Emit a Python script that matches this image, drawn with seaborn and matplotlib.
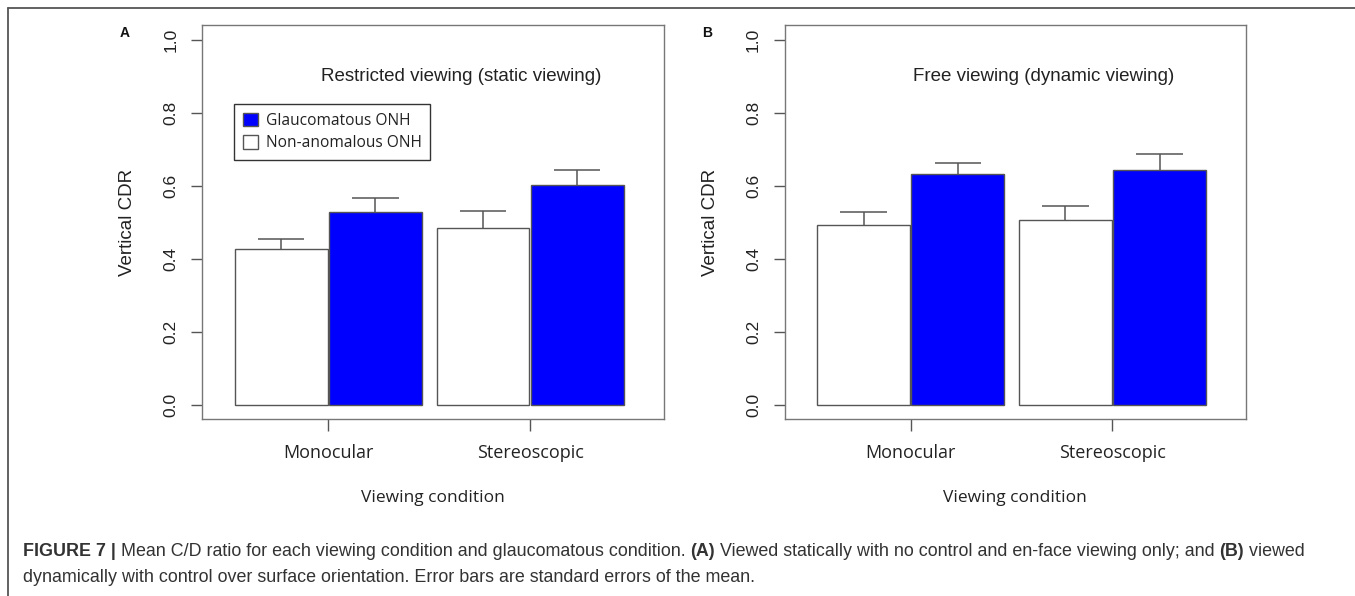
import numpy as np
import pandas as pd
import matplotlib
matplotlib.use("Agg")
import matplotlib.pyplot as plt
import seaborn as sns
from matplotlib.patches import Patch
from matplotlib.lines import Line2D

# ---------------- data ----------------
conditions = ["Monocular", "Stereoscopic"]
groups = ["Non-anomalous ONH", "Glaucomatous ONH"]

a_nonanom = [0.427, 0.484]
a_glauc = [0.529, 0.602]
a_nonanom_se = [0.028, 0.047]
a_glauc_se = [0.036, 0.041]

b_nonanom = [0.491, 0.506]
b_glauc = [0.631, 0.644]
b_nonanom_se = [0.038, 0.038]
b_glauc_se = [0.031, 0.043]

titles = ["Restricted viewing (static viewing)", "Free viewing (dynamic viewing)"]
panel_letters = ["A", "B"]
yticks = [0.0, 0.2, 0.4, 0.6, 0.8, 1.0]
ytick_labels = ["0.0", "0.2", "0.4", "0.6", "0.8", "1.0"]
ylabel = "Vertical CDR"
xlabel = "Viewing condition"
caption_line1 = [("FIGURE 7 | ", True),
                 ("Mean C/D ratio for each viewing condition and glaucomatous condition. ", False),
                 ("(A)", True),
                 (" Viewed statically with no control and en-face viewing only; and ", False),
                 ("(B)", True),
                 (" viewed", False)]
caption_line2 = "dynamically with control over surface orientation. Error bars are standard errors of the mean."

# ---------------- style ----------------
sns.set_theme(style="white")
plt.rcParams["font.family"] = ["Liberation Sans", "DejaVu Sans"]

W, H = 1355, 596
fig = plt.figure(figsize=(W / 100, H / 100), dpi=100)
fig.patch.set_facecolor("white")

def fx(px):
    return px / W

def fy(py):
    return 1 - py / H

EDGE = "#555555"
palette = {"Non-anomalous ONH": "#FFFFFF", "Glaucomatous ONH": "#0000FF"}

panels = [
    dict(left=202.1, nonanom=a_nonanom, glauc=a_glauc, nse=a_nonanom_se, gse=a_glauc_se, legend=True),
    dict(left=784.5, nonanom=b_nonanom, glauc=b_glauc, nse=b_nonanom_se, gse=b_glauc_se, legend=False),
]
ax_w, ax_top, ax_bot = 461.5, 25.0, 419.3

for i, p in enumerate(panels):
    ax = fig.add_axes([fx(p["left"]), fy(ax_bot), ax_w / W, (ax_bot - ax_top) / H])
    df = pd.DataFrame({
        "condition": conditions * 2,
        "group": [groups[0]] * 2 + [groups[1]] * 2,
        "cdr": list(p["nonanom"]) + list(p["glauc"]),
        "se": list(p["nse"]) + list(p["gse"]),
    })
    sns.barplot(data=df, x="condition", y="cdr", hue="group", order=conditions,
                hue_order=groups, palette=palette, saturation=1, width=0.934, gap=0.014,
                edgecolor=EDGE, linewidth=1.0, errorbar=None, legend=False, ax=ax)

    # error bars (upper only, R style) from the drawn bars
    bars = [b for b in ax.patches if b.get_height() > 0]
    for bar in bars:
        cx = bar.get_x() + bar.get_width() / 2
        top = bar.get_height()
        ci = int(round(cx))
        gi = 0 if np.allclose(bar.get_facecolor()[:3], (1, 1, 1)) else 1
        se = df[(df.condition == conditions[ci]) & (df.group == groups[gi])]["se"].iloc[0]
        hw = bar.get_width() / 4
        ax.vlines(cx, top, top + se, color=EDGE, lw=1.1, zorder=3)
        ax.hlines(top + se, cx - hw, cx + hw, color=EDGE, lw=1.1, zorder=3)

    ax.set_xlim(-0.626, 1.662)
    ax.set_ylim(-0.04, 1.04)
    ax.set_xlabel("")
    ax.set_ylabel("")
    ax.set_yticks(yticks)
    ax.set_yticklabels(ytick_labels, rotation=90, va="center",
                       fontfamily="Liberation Sans", fontsize=12.5, color="#222222")
    ax.set_xticks([0, 1])
    ax.set_xticklabels(conditions, fontfamily="Open Sans", fontsize=13, color="#222222")
    ax.tick_params(axis="y", direction="out", length=8, width=1, color=EDGE, pad=9, left=True)
    ax.tick_params(axis="x", direction="out", length=8.5, width=1, color=EDGE, pad=9.5, bottom=True)
    for s in ax.spines.values():
        s.set_visible(True)
        s.set_color("#777777")
        s.set_linewidth(1.0)
    ax.set_facecolor("white")
    ax.grid(False)

    ax.text(0.66, 0.9, titles[i], ha="center", va="center", fontsize=13.5,
            fontfamily="Liberation Sans", color="#222222")

    if p["legend"]:
        handles = [Patch(facecolor=palette[groups[1]], edgecolor=EDGE, linewidth=1),
                   Patch(facecolor=palette[groups[0]], edgecolor=EDGE, linewidth=1)]
        leg = ax.legend(handles=handles, labels=[groups[1], groups[0]], loc="upper left",
                        bbox_to_anchor=((234 - p["left"]) / ax_w, (ax_bot - 104) / (ax_bot - ax_top)),
                        borderaxespad=0, frameon=True, fancybox=False, framealpha=1,
                        edgecolor="#333333", handlelength=1.0, handleheight=1.0,
                        handletextpad=0.5, borderpad=0.55, labelspacing=0.4,
                        prop={"family": "Open Sans", "size": 11.2})
        leg.get_frame().set_linewidth(1.0)
        for t in leg.get_texts():
            t.set_color("#222222")

    # labels in figure coordinates
    cx_px = p["left"] + ax_w / 2
    fig.text(fx(cx_px), fy(498), xlabel, ha="center", va="center",
             fontfamily="Open Sans", fontsize=12.5, color="#222222")
    fig.text(fx(p["left"] - 74.4), fy(222), ylabel, ha="center", va="center", rotation=90,
             fontfamily="Liberation Sans", fontsize=13.5, color="#222222")
    fig.text(fx(p["left"] - 77), fy(33), panel_letters[i], ha="center", va="center",
             fontweight="bold", fontfamily="Liberation Sans", fontsize=10, color="#111111")

# frame lines
fig.add_artist(Line2D([fx(8), 1], [fy(8), fy(8)], transform=fig.transFigure,
                      color="#555555", lw=1.3))
fig.add_artist(Line2D([fx(8), fx(8)], [0, fy(8)], transform=fig.transFigure,
                      color="#555555", lw=1.3))

# caption
renderer = fig.canvas.get_renderer()
probe = fig.text(0, 0, caption_line2, fontsize=10, fontfamily="Liberation Sans")
wprobe = probe.get_window_extent(renderer).width
probe.remove()
cap_size = 10 * (756.7 - 22.7) / wprobe

x = 22.7
for txt, bold in caption_line1:
    t = fig.text(fx(x), fy(551), txt, ha="left", va="center", fontsize=cap_size,
                 fontweight="bold" if bold else "normal", fontfamily="Liberation Sans",
                 color="#333333")
    x += t.get_window_extent(renderer).width
fig.text(fx(22.7), fy(577.5), caption_line2, ha="left", va="center", fontsize=cap_size,
         fontfamily="Liberation Sans", color="#333333")

fig.savefig("out.png", dpi=100, facecolor="white")
